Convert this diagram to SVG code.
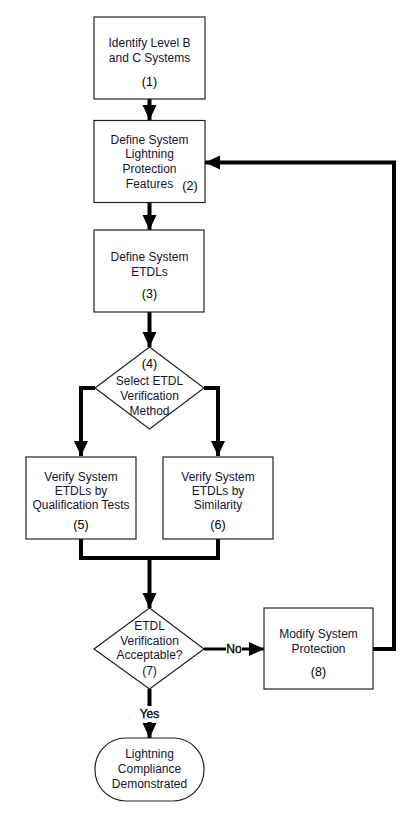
<svg xmlns="http://www.w3.org/2000/svg" width="417" height="817" viewBox="0 0 417 817">
<style>
.box{fill:#fff;stroke:#222;stroke-width:1.2}
.t{font-family:"Liberation Sans",Arial,sans-serif;font-size:12px;fill:#141432;text-anchor:middle}
.n{font-family:"Liberation Sans",Arial,sans-serif;font-size:12.5px;fill:#000;text-anchor:middle}
.c{fill:none;stroke:#000;stroke-width:4;stroke-linejoin:miter}
.l{font-family:"Liberation Sans",Arial,sans-serif;font-size:12px;fill:#000;stroke:#000;stroke-width:0.35;text-anchor:middle}
</style>
<defs>
<marker id="ah" markerUnits="userSpaceOnUse" markerWidth="16" markerHeight="16" viewBox="0 0 16 16" refX="15" refY="8" orient="auto">
<path d="M0,1 L15,8 L0,15 Z" fill="#000"/>
</marker>
</defs>
<rect width="417" height="817" fill="#fff"/>
<g id="connectors">
<line class="c" x1="149.5" y1="99" x2="149.5" y2="120" marker-end="url(#ah)"/>
<line class="c" x1="149.5" y1="202" x2="149.5" y2="230" marker-end="url(#ah)"/>
<line class="c" x1="149.5" y1="312" x2="149.5" y2="347" marker-end="url(#ah)"/>
<polyline class="c" points="95,388 81,388 81,456" marker-end="url(#ah)"/>
<polyline class="c" points="204,388 218,388 218,456" marker-end="url(#ah)"/>
<polyline class="c" points="81,539 81,558 218,558 218,539"/>
<line class="c" x1="149.5" y1="558" x2="149.5" y2="608" marker-end="url(#ah)"/>
<line class="c" x1="204" y1="649" x2="226" y2="649" style="stroke-width:3"/>
<line class="c" x1="242" y1="649" x2="264" y2="649" style="stroke-width:3" marker-end="url(#ah)"/>
<text class="l" x="234" y="653">No</text>
<polyline class="c" points="373,649 394,649 394,162.5 205,162.5" marker-end="url(#ah)"/>
<line class="c" x1="149.5" y1="689" x2="149.5" y2="706"/>
<text class="l" x="149.5" y="718">Yes</text>
<line class="c" x1="149.5" y1="722" x2="149.5" y2="738" marker-end="url(#ah)"/>
</g>
<g id="n1">
<rect class="box" x="94" y="17" width="111" height="82"/>
<text class="t" x="149.5" y="47">Identify Level B</text>
<text class="t" x="149.5" y="62">and C Systems</text>
<text class="n" x="149.5" y="86">(1)</text>
</g>
<g id="n2">
<rect class="box" x="94" y="120.5" width="111" height="82"/>
<text class="t" x="149.5" y="144">Define System</text>
<text class="t" x="149.5" y="158">Lightning</text>
<text class="t" x="149.5" y="173">Protection</text>
<text class="t" x="149.5" y="188">Features</text>
<text class="n" x="190" y="190">(2)</text>
</g>
<g id="n3">
<rect class="box" x="94" y="230" width="110" height="82"/>
<text class="t" x="149.5" y="261">Define System</text>
<text class="t" x="149.5" y="276">ETDLs</text>
<text class="n" x="149.5" y="298">(3)</text>
</g>
<g id="n4">
<polygon class="box" points="149.5,347 204,388 149.5,429 95,388"/>
<text class="n" x="149.5" y="368">(4)</text>
<text class="t" x="149.5" y="385">Select ETDL</text>
<text class="t" x="149.5" y="400">Verification</text>
<text class="t" x="149.5" y="415">Method</text>
</g>
<g id="n5">
<rect class="box" x="26" y="457" width="110" height="82"/>
<text class="t" x="81" y="481">Verify System</text>
<text class="t" x="81" y="495">ETDLs by</text>
<text class="t" x="81" y="509">Qualification Tests</text>
<text class="n" x="81" y="529">(5)</text>
</g>
<g id="n6">
<rect class="box" x="163" y="457" width="110" height="82"/>
<text class="t" x="218" y="481">Verify System</text>
<text class="t" x="218" y="495">ETDLs by</text>
<text class="t" x="218" y="509">Similarity</text>
<text class="n" x="218" y="529">(6)</text>
</g>
<g id="n7">
<polygon class="box" points="149.5,608 204,649 149.5,689 94,649"/>
<text class="t" x="149.5" y="630">ETDL</text>
<text class="t" x="149.5" y="645">Verification</text>
<text class="t" x="149.5" y="659">Acceptable?</text>
<text class="t" x="149.5" y="675">(7)</text>
</g>
<g id="n8">
<rect class="box" x="264" y="608" width="109" height="81"/>
<text class="t" x="318.5" y="638">Modify System</text>
<text class="t" x="318.5" y="653">Protection</text>
<text class="n" x="318.5" y="676">(8)</text>
</g>
<g id="n9">
<rect class="box" x="95" y="738" width="109" height="63" rx="31" ry="31"/>
<text class="t" x="149.5" y="758">Lightning</text>
<text class="t" x="149.5" y="773">Compliance</text>
<text class="t" x="149.5" y="788">Demonstrated</text>
</g>
</svg>
